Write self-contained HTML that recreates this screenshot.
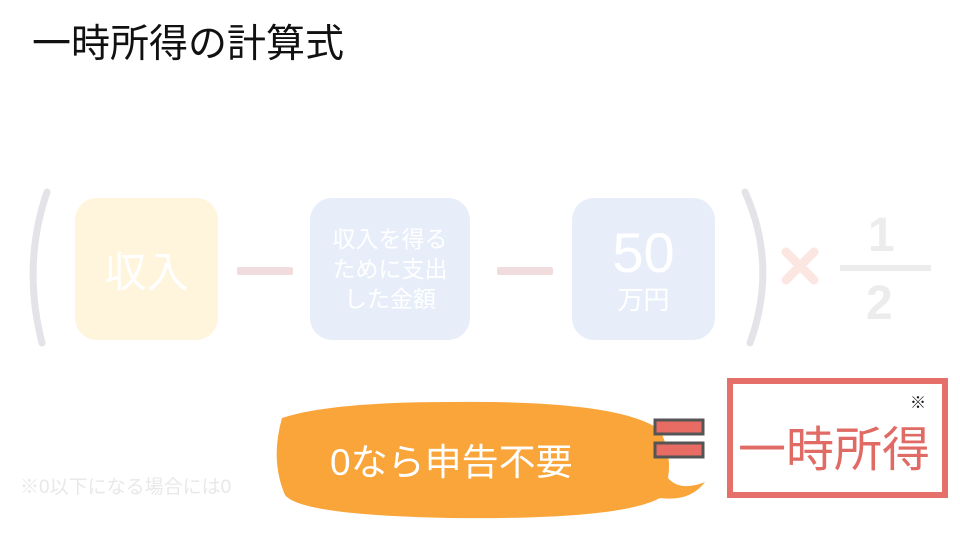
<!DOCTYPE html>
<html><head><meta charset="utf-8"><style>
body{margin:0;width:960px;height:540px;background:#fff;position:relative;overflow:hidden;font-family:"Liberation Sans","Noto Sans CJK JP",sans-serif}
.a{position:absolute}
.box{position:absolute;border-radius:22px;color:#fff;display:flex;align-items:center;justify-content:center;text-align:center}
.bar{position:absolute;height:8px;background:#f0dcdc;border-radius:2px}
</style></head><body>
<div class="a" style="left:32px;top:24px;font-size:39px;color:#111;line-height:1.1">一時所得の計算式</div>
<svg class="a" style="left:0;top:0" width="960" height="540">
<path d="M47 192 Q22 265 42 343" stroke="#e4e4e8" stroke-width="7" fill="none" stroke-linecap="round"/>
<path d="M745 192 Q778 265 750 343" stroke="#e4e4e8" stroke-width="7" fill="none" stroke-linecap="round"/>
<path d="M786 252 L814 280 M814 252 L786 280" stroke="#fbe6e2" stroke-width="9" stroke-linecap="round"/>
<rect x="840" y="265" width="91" height="6" fill="#ececec"/>
<path d="M282 418 Q330 402 450 402 Q620 400 660 430 Q672 455 668 478 Q680 492 705 482 Q690 502 660 498 Q620 520 450 518 Q300 515 285 495 Q270 460 282 418Z" fill="#f9a53a"/>
<rect x="655" y="420" width="48" height="14" fill="#e86b64" stroke="#555" stroke-width="3"/>
<rect x="655" y="443" width="48" height="14" fill="#e86b64" stroke="#555" stroke-width="3"/>
<rect x="730" y="381" width="215" height="114" fill="#fff" stroke="#e57069" stroke-width="6"/>
</svg>
<div class="box" style="left:75px;top:198px;width:143px;height:142px;background:#fff4dc;font-size:42px">収入</div>
<div class="bar" style="left:237px;top:267px;width:56px"></div>
<div class="box" style="left:310px;top:198px;width:160px;height:142px;background:#e7eefa;font-size:23px;line-height:30px">収入を得る<br>ために支出<br>した金額</div>
<div class="bar" style="left:497px;top:267px;width:56px"></div>
<div class="box" style="left:572px;top:198px;width:143px;height:142px;background:#e7eefa;flex-direction:column;line-height:1"><div style="font-size:56px">50</div><div style="font-size:26px;margin-top:6px">万円</div></div>
<div class="a" style="left:868px;top:208px;font-size:48px;color:#ececec;font-weight:bold">1</div>
<div class="a" style="left:866px;top:276px;font-size:48px;color:#ececec;font-weight:bold">2</div>
<div class="a" style="left:20px;top:472px;font-size:19px;color:#e8e8e8">※0以下になる場合には0</div>
<div class="a" style="left:330px;top:432px;font-size:37px;color:#fff">0なら申告不要</div>
<div class="a" style="left:738px;top:410px;font-size:48px;color:#e06a64">一時所得</div>
<div class="a" style="left:910px;top:389px;font-size:16px;color:#111">※</div>
</body></html>
